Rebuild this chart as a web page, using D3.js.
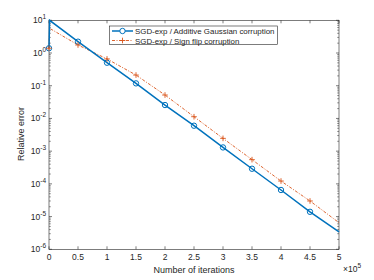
<!DOCTYPE html>
<html><head><meta charset="utf-8">
<script src="https://cdn.jsdelivr.net/npm/d3@7"></script>
<style>body{margin:0;background:#fff}svg{display:block}text{font-family:"Liberation Sans",Arial,sans-serif;fill:#262626}</style>
</head><body><svg id="c" width="374" height="280"></svg>
<script>
const iterations = [0, 1000, 50000, 100000, 150000, 200000, 250000, 300000, 350000, 400000, 450000, 500000];
const gaussian = [1.4, 10, 2.22, 0.505, 0.118, 0.0257, 0.006, 0.0013, 2.9e-4, 6.5e-5, 1.4e-5, 3.4e-6];
const signflip = [1.4, 5.7, 1.76, 0.66, 0.212, 0.052, 0.0113, 0.00246, 5.5e-4, 1.22e-4, 3.0e-5, 6.5e-6];
const markerIdx = [0, 2, 3, 4, 5, 6, 7, 8, 9, 10];
const xTicks = [0, 50000, 100000, 150000, 200000, 250000, 300000, 350000, 400000, 450000, 500000];
const yExps = [1, 0, -1, -2, -3, -4, -5, -6];
const legendLabels = ["SGD-exp / Additive Gaussian corruption", "SGD-exp / Sign flip corruption"];

const svg = d3.select("#c");
const L = 49, R = 339, T = 20.3, B = 249.3;
const x = d3.scaleLinear().domain([0, 500000]).range([L, R]);
const y = d3.scaleLog().domain([1e-6, 10]).range([B, T]);
const axc = "#262626";
const blue = "#0072BD", orange = "#D95319";

const g = svg.append("g");
g.append("rect").attr("x", L).attr("y", T).attr("width", R - L).attr("height", B - T)
  .attr("fill", "none").attr("stroke", axc).attr("stroke-width", 0.6);

xTicks.forEach(t => {
  const px = x(t);
  g.append("line").attr("x1", px).attr("x2", px).attr("y1", B).attr("y2", B - 3).attr("stroke", axc).attr("stroke-width", 0.6);
  g.append("line").attr("x1", px).attr("x2", px).attr("y1", T).attr("y2", T + 3).attr("stroke", axc).attr("stroke-width", 0.6);
  g.append("text").attr("x", px).attr("y", B + 11).attr("text-anchor", "middle").attr("font-size", 8.5)
    .text(d3.format("~g")(t / 1e5));
});
const mt = g.append("text").attr("x", 343).attr("y", 272).attr("text-anchor", "start").attr("font-size", 8.5);
mt.append("tspan").text("\u00d710");
mt.append("tspan").attr("dy", -4).attr("font-size", 6.5).text("5");

yExps.forEach(e => {
  const v = Math.pow(10, e);
  const py = y(v);
  g.append("line").attr("x1", L).attr("x2", L + 3).attr("y1", py).attr("y2", py).attr("stroke", axc).attr("stroke-width", 0.6);
  g.append("line").attr("x1", R).attr("x2", R - 3).attr("y1", py).attr("y2", py).attr("stroke", axc).attr("stroke-width", 0.6);
  const tx = g.append("text").attr("x", 46).attr("y", py + 3).attr("text-anchor", "end").attr("font-size", 8.5);
  tx.append("tspan").text("10");
  tx.append("tspan").attr("dy", -4).attr("font-size", 6.5).text(String(e));
  if (e > -6) {
    for (let m = 2; m <= 9; m++) {
      const pm = y(m * Math.pow(10, e - 1));
      g.append("line").attr("x1", L).attr("x2", L + 1.8).attr("y1", pm).attr("y2", pm).attr("stroke", axc).attr("stroke-width", 0.5);
      g.append("line").attr("x1", R).attr("x2", R - 1.8).attr("y1", pm).attr("y2", pm).attr("stroke", axc).attr("stroke-width", 0.5);
    }
  }
});

g.append("text").attr("x", 194).attr("y", 272.5).attr("text-anchor", "middle").attr("font-size", 9).text("Number of iterations");
g.append("text").attr("transform", "translate(24,134) rotate(-90)").attr("text-anchor", "middle").attr("font-size", 9).text("Relative error");

const line = d3.line().x((d, i) => x(iterations[i])).y(d => y(d));
g.append("path").datum(signflip).attr("d", line).attr("fill", "none").attr("stroke", orange).attr("stroke-width", 0.9)
  .attr("stroke-dasharray", "3,1.5,1,1.5");
g.append("path").datum(gaussian).attr("d", line).attr("fill", "none").attr("stroke", blue).attr("stroke-width", 1.5);

function plus(sel, cx, cy, s, col) {
  sel.append("path").attr("d", `M${cx - s},${cy}H${cx + s}M${cx},${cy - s}V${cy + s}`).attr("stroke", col).attr("stroke-width", 0.9).attr("fill", "none");
}
markerIdx.forEach(i => {
  g.append("circle").attr("cx", x(iterations[i])).attr("cy", y(gaussian[i])).attr("r", 2.7)
    .attr("fill", "none").attr("stroke", blue).attr("stroke-width", 1);
  plus(g, x(iterations[i]), y(signflip[i]), 2.8, orange);
});

const lg = g.append("g");
lg.append("rect").attr("x", 109.5).attr("y", 26).attr("width", 168).attr("height", 18.5)
  .attr("fill", "#fff").attr("stroke", axc).attr("stroke-width", 0.6);
const ly = [31, 40.5];
lg.append("line").attr("x1", 112).attr("x2", 133).attr("y1", ly[0]).attr("y2", ly[0]).attr("stroke", blue).attr("stroke-width", 1.5);
lg.append("circle").attr("cx", 122.5).attr("cy", ly[0]).attr("r", 2.7).attr("fill", "#fff").attr("stroke", blue).attr("stroke-width", 1);
lg.append("line").attr("x1", 112).attr("x2", 133).attr("y1", ly[1]).attr("y2", ly[1]).attr("stroke", orange).attr("stroke-width", 0.9).attr("stroke-dasharray", "3,1.5,1,1.5");
plus(lg, 122.5, ly[1], 2.8, orange);
legendLabels.forEach((t, i) => {
  lg.append("text").attr("x", 135).attr("y", ly[i] + 3).attr("font-size", 7.9).text(t);
});
</script></body></html>
